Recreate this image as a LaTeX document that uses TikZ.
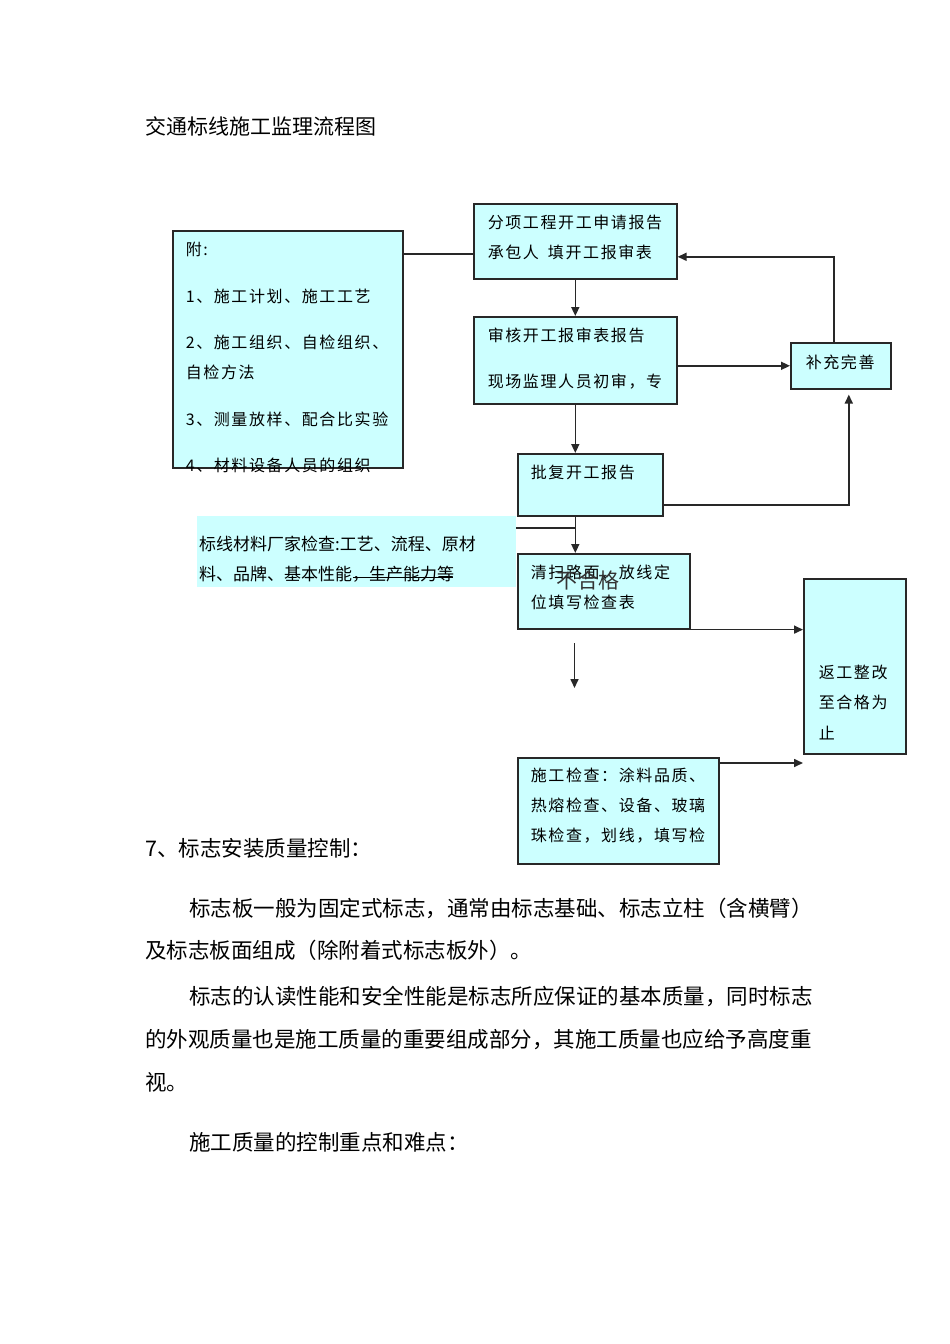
\documentclass[tikz,border=0pt]{standalone}
\usepackage{fontspec}
\setmainfont{Noto Sans CJK SC}
\newfontfamily\cjkbox{Noto Sans CJK SC}[LetterSpace=10]
\usetikzlibrary{arrows.meta,positioning}
\definecolor{flowcyan}{RGB}{204,255,255}
\definecolor{flowline}{RGB}{40,40,40}
\tikzset{>={Triangle[width=8pt,length=9pt]}}
\tikzset{
  flowbox/.style={shape=rectangle,draw=flowline,line width=1.6pt,fill=flowcyan,inner sep=0pt,anchor=north west},
  markbox/.style={shape=rectangle,fill=flowcyan,inner sep=0pt,anchor=north west},
  conn/.style={draw=flowline,line width=1.6pt},
  pagetext/.style={anchor=west,inner sep=0pt,font=\fontsize{21.5}{26}\selectfont}
}
% width, height, top gap, left gap, lines
\newcommand{\flowtext}[5]{\parbox[c][#2][t]{#1}{\cjkbox\fontsize{16}{30}\selectfont\leftskip=#4\parindent=0pt\vspace*{#3}\noindent #5}}

\begin{document}
\begin{tikzpicture}[x=1pt,y=-1pt]
\fill[white] (0,0) rectangle (950,1344);
\useasboundingbox (0,0) rectangle (950,1344);

\node[pagetext,font=\fontsize{21}{26}\selectfont] (title) at (145,126) {交通标线施工监理流程图};

% flow boxes
\node[flowbox] (note) at (172,230) {\flowtext{230pt}{237pt}{11pt}{13pt}{附:\\[17pt]1、施工计划、施工工艺\\[16pt]2、施工组织、自检组织、\\自检方法\\[17pt]3、测量放样、配合比实验\\[16pt]4、材料设备人员的组织}};

\node[flowbox] (apply) at (473,203) {\flowtext{203pt}{75pt}{11pt}{14pt}{分项工程开工申请报告\\承包人\hspace{9pt}填开工报审表}};

\node[flowbox] (review) at (473,316) {\flowtext{203pt}{87pt}{11pt}{14pt}{审核开工报审表报告\\[16pt]现场监理人员初审，专}};

\node[flowbox] (approve) at (517,453) {\flowtext{145pt}{62pt}{11pt}{13pt}{批复开工报告}};

\node[flowbox] (supp) at (790,342) {\flowtext{100pt}{46pt}{12pt}{15pt}{补充完善}};

\node[markbox] (highlight) at (197,516) {\flowtext{319pt}{71pt}{20pt}{2pt}{\normalfont\fontsize{17}{30}\selectfont 标线材料厂家检查:工艺、流程、原材\\料、品牌、基本性能，生产能力等}};

\node[flowbox] (clean) at (517,553) {\flowtext{172pt}{75pt}{11pt}{13pt}{清扫路面、放线定\\位填写检查表}};

\node[inner sep=0pt,text=black!80,font=\fontsize{21}{21}\selectfont] (fail) at (588,580) {不合格};

\node[flowbox] (rework) at (803,578) {\flowtext{102pt}{175pt}{86pt}{15pt}{返工整改\\至合格为\\[1pt]止}};

\node[flowbox] (check) at (517,757) {\flowtext{201pt}{106pt}{10pt}{13pt}{施工检查：涂料品质、\\热熔检查、设备、玻璃\\珠检查，划线，填写检}};

% connectors
\coordinate (noteout) at ([yshift=-12.5pt]apply.west);
\draw[conn] (noteout -| note.east) -- (noteout);
\draw[conn,->] (apply) -- (review);
\draw[conn,->] (review.south) -- (review.south |- approve.north);
\draw[conn,->] (review.south |- approve.south) -- (review.south |- clean.north);
\coordinate (tap) at ([yshift=-12pt]highlight.north east);
\draw[conn] (tap) -- (tap -| review.south);
\draw[conn,->] (review.east |- supp.west) -- (supp.west);
\draw[conn,->] ([xshift=-7pt]supp.north) |- ([yshift=-15.5pt]apply.east);
\draw[conn,->,shorten >=5pt] ([yshift=-20pt]approve.east) -| ([xshift=8pt]supp.south);
\draw[conn,->] (clean.south east) -- (clean.south east -| rework.west);
\coordinate (gaptop) at (574.5,643);
\coordinate (gapend) at (574.5,688);
\draw[conn,->] (gaptop) -- (gapend);
\coordinate (checkout) at ([yshift=-6pt]check.north east);
\draw[conn,->] (checkout) -- (checkout -| rework.west);
\coordinate (strikeA) at (353,577);
\coordinate (strikeB) at (453,577);
\draw[line width=1pt] (strikeA) -- (strikeB);

% text below
\node[pagetext] (sec7) at (145,848) {7、标志安装质量控制：};
\node[pagetext] (para1a) at (189,908) {标志板一般为固定式标志，通常由标志基础、标志立柱（含横臂）};
\node[pagetext] (para1b) at (145,950) {及标志板面组成（除附着式标志板外）。};
\node[pagetext] (para2a) at (189,996) {标志的认读性能和安全性能是标志所应保证的基本质量，同时标志};
\node[pagetext] (para2b) at (145,1040) {的外观质量也是施工质量的重要组成部分，其施工质量也应给予高度重};
\node[pagetext] (para2c) at (145,1082) {视。};
\node[pagetext] (para3) at (189,1142) {施工质量的控制重点和难点：};

\end{tikzpicture}
\end{document}
